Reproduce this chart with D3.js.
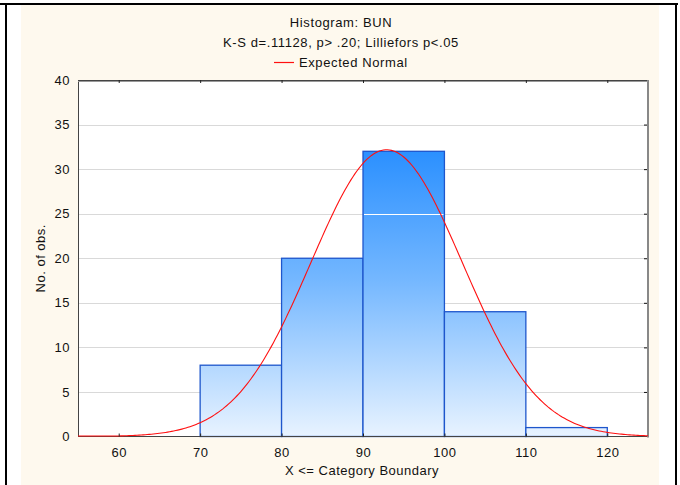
<!DOCTYPE html>
<html><head><meta charset="utf-8">
<script src="https://cdn.jsdelivr.net/npm/d3@7"></script>
<style>
html,body{margin:0;padding:0;background:#fff;}
svg{display:block;font-family:"Liberation Sans",Arial,sans-serif;}
</style></head>
<body>
<script>
// ---- data ----
const binStarts = [70, 80, 90, 100, 110];
const binEnds   = [80, 90, 100, 110, 120];
const counts    = [8, 20, 32, 14, 1];
const xTicks    = [60, 70, 80, 90, 100, 110, 120];
const yTicks    = [0, 5, 10, 15, 20, 25, 30, 35, 40];
const normalMean = 92.9, normalSD = 9.3, nObs = 75, binWidth = 10;
const titleLines = ["Histogram: BUN", "K-S d=.11128, p> .20; Lilliefors p<.05"];
const legendLabel = "Expected Normal";
const xTitle = "X <= Category Boundary";
const yTitle = "No. of obs.";

const W = 680, H = 485;
const L = 78, R = 648, T = 80, B = 436.5;

const svg = d3.select("body").append("svg").attr("width", W).attr("height", H);

// background & outer frame
svg.append("rect").attr("x",0).attr("y",0).attr("width",W).attr("height",H).attr("fill","#fff");
svg.append("rect").attr("x",21).attr("y",5).attr("width",638).attr("height",H-5).attr("fill","#fef9ee");
svg.append("line").attr("x1",0).attr("x2",678).attr("y1",4).attr("y2",4).attr("stroke","#000").attr("stroke-width",2);
svg.append("line").attr("x1",6).attr("x2",6).attr("y1",3).attr("y2",H).attr("stroke","#000").attr("stroke-width",2);
svg.append("line").attr("x1",676).attr("x2",676).attr("y1",3).attr("y2",H).attr("stroke","#000").attr("stroke-width",2);

const x = d3.scaleLinear().domain([55,125]).range([L,R]);
const y = d3.scaleLinear().domain([0,40]).range([B,T]);

// plot background
svg.append("rect").attr("x",L).attr("y",T).attr("width",R-L).attr("height",B-T).attr("fill","#fff");

// gridlines
svg.append("g").selectAll("line").data(yTicks.filter(d=>d>0 && d<40)).join("line")
  .attr("x1",L).attr("x2",R).attr("y1",d=>Math.round(y(d))+0.5).attr("y2",d=>Math.round(y(d))+0.5)
  .attr("stroke","#d9d9d9").attr("stroke-width",1);

// gradient
const defs = svg.append("defs");
const grad = defs.append("linearGradient").attr("id","barGrad")
  .attr("gradientUnits","userSpaceOnUse").attr("x1",0).attr("x2",0)
  .attr("y1",y(32)).attr("y2",y(0));
grad.append("stop").attr("offset","0%").attr("stop-color","#2b90ff");
grad.append("stop").attr("offset","45%").attr("stop-color","#74b7ff");
grad.append("stop").attr("offset","100%").attr("stop-color","#e8f3ff");

const bins = binStarts.map((s,i)=>({x0:s, x1:binEnds[i], n:counts[i]}));
svg.append("g").selectAll("rect").data(bins).join("rect")
  .attr("x",d=>x(d.x0)).attr("width",d=>x(d.x1)-x(d.x0))
  .attr("y",d=>y(d.n)).attr("height",d=>y(0)-y(d.n))
  .attr("fill","url(#barGrad)").attr("stroke","#1e56cc").attr("stroke-width",1.3);

// white artifact gridline inside tallest bar
const tall = bins[2];
svg.append("line").attr("x1",x(tall.x0)+1).attr("x2",x(tall.x1)-1)
  .attr("y1",Math.round(y(25))+0.5).attr("y2",Math.round(y(25))+0.5)
  .attr("stroke","#fff").attr("stroke-width",1);

// frame
svg.append("rect").attr("x",L+0.5).attr("y",T+0.5).attr("width",R-L-1).attr("height",B-T-0.5)
  .attr("fill","none").attr("stroke","#444").attr("stroke-width",1);
svg.append("line").attr("x1",R).attr("x2",R).attr("y1",T).attr("y2",B+1).attr("stroke","#888").attr("stroke-width",2);
svg.append("line").attr("x1",L).attr("x2",R).attr("y1",T+1.5).attr("y2",T+1.5).attr("stroke","#999").attr("stroke-width",1);

// expected normal curve (drawn over the frame, as in the original)
const xs = d3.range(55, 125.01, 0.25);
const pdf = v => nObs*binWidth/(normalSD*Math.sqrt(2*Math.PI))*Math.exp(-0.5*((v-normalMean)/normalSD)**2);
svg.append("path").datum(xs)
  .attr("d", d3.line().x(d=>x(d)).y(d=>Math.min(y(pdf(d)), B-0.5)))
  .attr("fill","none").attr("stroke","#ff1010").attr("stroke-width",1.1);

// axes (labels only; ticks drawn inward)
const fs = "13px";
const xAxisG = svg.append("g").attr("transform",`translate(0,${B})`)
  .call(d3.axisBottom(x).tickValues(xTicks).tickSize(-3).tickPadding(11));
xAxisG.select(".domain").remove();
xAxisG.selectAll("line").attr("stroke","#222");
xAxisG.selectAll("text").attr("font-size",fs).attr("fill","#111").attr("letter-spacing","0.5px")
  .attr("font-family","Liberation Sans, Arial, sans-serif");

const xTopG = svg.append("g").attr("transform",`translate(0,${T})`)
  .call(d3.axisTop(x).tickValues(xTicks).tickSize(-3).tickFormat(""));
xTopG.select(".domain").remove();
xTopG.selectAll("line").attr("stroke","#222");

const yAxisG = svg.append("g").attr("transform",`translate(${L},0)`)
  .call(d3.axisLeft(y).tickValues(yTicks).tickSize(0).tickPadding(8));
yAxisG.select(".domain").remove();
yAxisG.selectAll("text").attr("font-size",fs).attr("fill","#111").attr("letter-spacing","0.5px")
  .attr("font-family","Liberation Sans, Arial, sans-serif");

const yRightG = svg.append("g").attr("transform",`translate(${R-1},0)`)
  .call(d3.axisRight(y).tickValues(yTicks.filter(d=>d>0&&d<40)).tickSize(-3).tickFormat(""));
yRightG.select(".domain").remove();
yRightG.selectAll("line").attr("stroke","#111");

// titles
const tText = svg.append("g").attr("font-size",fs).attr("fill","#111").attr("letter-spacing","0.6px")
  .attr("text-anchor","middle");
tText.append("text").attr("x",341).attr("y",27).text(titleLines[0]);
tText.append("text").attr("x",341).attr("y",46.5).text(titleLines[1]);

svg.append("line").attr("x1",274).attr("x2",294).attr("y1",62.5).attr("y2",62.5)
  .attr("stroke","#ff1010").attr("stroke-width",1.2);
svg.append("text").attr("x",299).attr("y",67).attr("font-size",fs).attr("fill","#111")
  .attr("letter-spacing","0.6px").text(legendLabel);

svg.append("text").attr("x",362).attr("y",475).attr("text-anchor","middle")
  .attr("font-size",fs).attr("fill","#111").attr("letter-spacing","0.5px").text(xTitle);

svg.append("text").attr("transform",`translate(45,${(T+B)/2}) rotate(-90)`)
  .attr("text-anchor","middle").attr("font-size",fs).attr("fill","#111")
  .attr("letter-spacing","0.5px").text(yTitle);
</script>
</body></html>
